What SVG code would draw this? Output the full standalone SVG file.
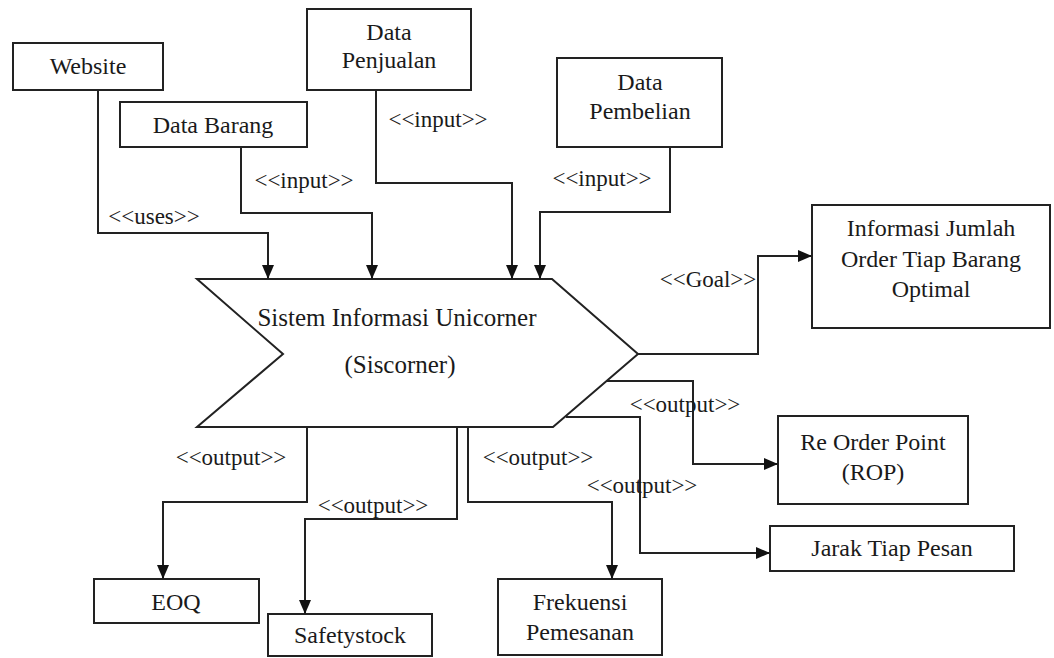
<svg xmlns="http://www.w3.org/2000/svg" width="1054" height="658" viewBox="0 0 1054 658">
  <style>
    .box { fill: #ffffff; stroke: #222222; stroke-width: 2; }
    .serif { font-family: 'Liberation Serif', Tinos, 'DejaVu Serif', 'Noto Serif', serif; fill: #1a1a1a; text-anchor: middle; }
    .node-text { font-size: 24px; }
    .title-text { font-size: 25px; }
    .label { font-size: 23px; }
    .wire { fill: none; stroke: #222222; stroke-width: 2; marker-end: url(#arrow); }
  </style>
  <defs>
    <marker id="arrow" markerUnits="userSpaceOnUse" markerWidth="14" markerHeight="12" viewBox="0 0 14 12" refX="14" refY="6" orient="auto">
      <path d="M0,0 L14,6 L0,12 Z" fill="#111111"/>
    </marker>
  </defs>
  <rect width="1054" height="658" fill="#ffffff"/>

  <!-- central process -->
  <g id="siscorner">
    <polygon class="box" points="197,279 552,279 638,354 553,427 197,427 283,354"/>
    <text class="serif title-text" x="397" y="326">Sistem Informasi Unicorner</text>
    <text class="serif title-text" x="400" y="373">(Siscorner)</text>
  </g>

  <!-- inputs -->
  <g id="website">
    <rect class="box" x="13" y="43" width="150" height="47"/>
    <text class="serif node-text" x="88" y="74">Website</text>
  </g>
  <g id="data-barang">
    <rect class="box" x="120" y="102" width="187" height="45"/>
    <text class="serif node-text" x="213" y="133">Data Barang</text>
  </g>
  <g id="data-penjualan">
    <rect class="box" x="307" y="9" width="164" height="81"/>
    <text class="serif node-text" x="389" y="40">Data</text>
    <text class="serif node-text" x="389" y="68">Penjualan</text>
  </g>
  <g id="data-pembelian">
    <rect class="box" x="557" y="58" width="165" height="89"/>
    <text class="serif node-text" x="640" y="90">Data</text>
    <text class="serif node-text" x="640" y="119">Pembelian</text>
  </g>

  <!-- goal and outputs -->
  <g id="informasi-order">
    <rect class="box" x="812" y="205" width="238" height="123"/>
    <text class="serif node-text" x="931" y="236">Informasi Jumlah</text>
    <text class="serif node-text" x="931" y="267">Order Tiap Barang</text>
    <text class="serif node-text" x="931" y="297">Optimal</text>
  </g>
  <g id="rop">
    <rect class="box" x="778" y="416" width="190" height="88"/>
    <text class="serif node-text" x="873" y="450">Re Order Point</text>
    <text class="serif node-text" x="873" y="480">(ROP)</text>
  </g>
  <g id="jarak">
    <rect class="box" x="770" y="526" width="244" height="45"/>
    <text class="serif node-text" x="892" y="556">Jarak Tiap Pesan</text>
  </g>
  <g id="frekuensi">
    <rect class="box" x="498" y="579" width="164" height="76"/>
    <text class="serif node-text" x="580" y="610">Frekuensi</text>
    <text class="serif node-text" x="580" y="640">Pemesanan</text>
  </g>
  <g id="safetystock">
    <rect class="box" x="268" y="614" width="164" height="42"/>
    <text class="serif node-text" x="350" y="643">Safetystock</text>
  </g>
  <g id="eoq">
    <rect class="box" x="94" y="579" width="165" height="44"/>
    <text class="serif node-text" x="176" y="610">EOQ</text>
  </g>

  <!-- connectors with their stereotype labels -->
  <g id="connectors">
    <path class="wire" d="M98,90 V233 H268 V279"/>
    <path class="wire" d="M241,147 V213 H372 V279"/>
    <path class="wire" d="M376,90 V183 H512 V279"/>
    <path class="wire" d="M670,147 V212 H540 V279"/>
    <path class="wire" d="M638,354 H758 V256 H812"/>
    <path class="wire" d="M607,381 H693 V464 H778"/>
    <path class="wire" d="M566,417 H640 V553 H770"/>
    <path class="wire" d="M307,427 V502 H163 V579"/>
    <path class="wire" d="M457,427 V519 H305 V614"/>
    <path class="wire" d="M468,427 V502 H612 V579"/>

    <text class="serif label" x="154" y="224">&lt;&lt;uses&gt;&gt;</text>
    <text class="serif label" x="304" y="188">&lt;&lt;input&gt;&gt;</text>
    <text class="serif label" x="438" y="127">&lt;&lt;input&gt;&gt;</text>
    <text class="serif label" x="602" y="186">&lt;&lt;input&gt;&gt;</text>
    <text class="serif label" x="708" y="287">&lt;&lt;Goal&gt;&gt;</text>
    <text class="serif label" x="685" y="412">&lt;&lt;output&gt;&gt;</text>
    <text class="serif label" x="642" y="493">&lt;&lt;output&gt;&gt;</text>
    <text class="serif label" x="538" y="465">&lt;&lt;output&gt;&gt;</text>
    <text class="serif label" x="231" y="465">&lt;&lt;output&gt;&gt;</text>
    <text class="serif label" x="373" y="513">&lt;&lt;output&gt;&gt;</text>
  </g>
</svg>
